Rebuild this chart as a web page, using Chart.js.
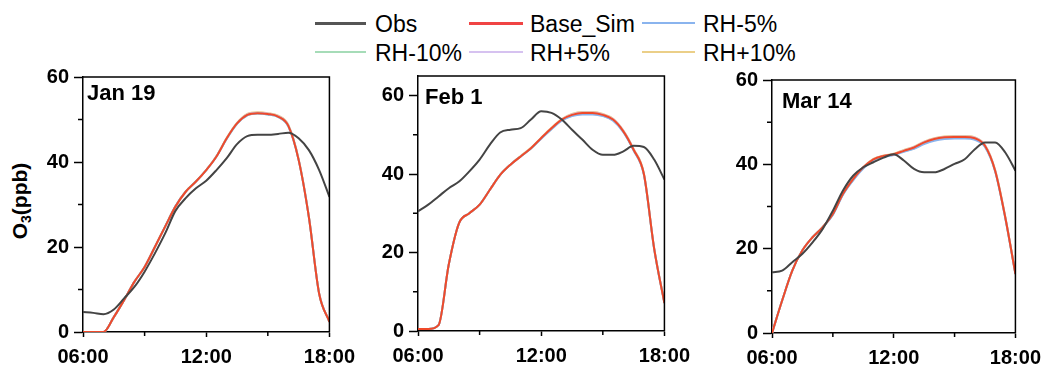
<!DOCTYPE html>
<html>
<head>
<meta charset="utf-8">
<script src="https://cdn.jsdelivr.net/npm/chart.js@4.4.1/dist/chart.umd.min.js"></script>
<style>
  html, body { margin: 0; padding: 0; background: #fff; width: 1050px; height: 367px; overflow: hidden; }
  body { position: relative; font-family: "Liberation Sans", Arial, sans-serif; color: #000; }
  canvas { position: absolute; }
  .lg-line { position: absolute; height: 0; }
  .lg-text { position: absolute; font-size: 23px; line-height: 26px; white-space: nowrap; }
  .ptitle { position: absolute; font-weight: bold; font-size: 22px; line-height: 26px; white-space: nowrap; }
  .ytitle { position: absolute; width: 120px; height: 26px; line-height: 26px; text-align: center;
            font-weight: bold; font-size: 21px; transform: rotate(-90deg); white-space: nowrap; }
  .ytitle sub { font-size: 14px; vertical-align: -4px; line-height: 0; }
</style>
</head>
<body>

<!-- legend -->
<div class="lg-line" style="left:315px;top:22px;width:51px;border-top:3px solid #555555"></div>
<div class="lg-text" style="left:375px;top:11px">Obs</div>
<div class="lg-line" style="left:469px;top:22px;width:54px;border-top:3px solid #f04444"></div>
<div class="lg-text" style="left:530px;top:11px">Base_Sim</div>
<div class="lg-line" style="left:642px;top:22px;width:53px;border-top:2px solid #8ab4ee"></div>
<div class="lg-text" style="left:703px;top:11px">RH-5%</div>

<div class="lg-line" style="left:315px;top:51px;width:51px;border-top:2px solid #a6dcb8"></div>
<div class="lg-text" style="left:375px;top:40px">RH-10%</div>
<div class="lg-line" style="left:469px;top:51px;width:54px;border-top:2px solid #d6c2f0"></div>
<div class="lg-text" style="left:530px;top:40px">RH+5%</div>
<div class="lg-line" style="left:642px;top:51px;width:53px;border-top:2px solid #ebcf88"></div>
<div class="lg-text" style="left:703px;top:40px">RH+10%</div>

<div class="ytitle" style="left:-40px;top:188px">O<sub>3</sub>(ppb)</div>

<canvas id="c1"></canvas>
<canvas id="c2"></canvas>
<canvas id="c3"></canvas>

<div class="ptitle" style="left:87px;top:80px">Jan 19</div>
<div class="ptitle" style="left:425px;top:84px">Feb 1</div>
<div class="ptitle" style="left:782px;top:88px">Mar 14</div>

<script>
// hours of day, every half hour
const hours = [6, 6.5, 7, 7.5, 8, 8.5, 9, 9.5, 10, 10.5, 11, 11.5, 12,
               12.5, 13, 13.5, 14, 14.5, 15, 15.5, 16, 16.5, 17, 17.5, 18];

const xTicks = [6, 12, 18];
const xTickLabels = ["06:00", "12:00", "18:00"];
const xMinorTicks = [9, 15];
const yTicks = [0, 20, 40, 60];
const yMinorTicks = [10, 30, 50];

// Jan 19
const obsJan = [4.7, 4.5, 4.2, 5.3, 7.9, 10.6, 14.2, 18.5, 23.2, 28.5, 31.5, 33.8, 35.6,
                38.1, 40.9, 44.2, 46.1, 46.4, 46.4, 46.6, 46.9, 45.6, 42.8, 38.1, 31.8];
const baseJan = [0, 0, 0, 3.5, 7.5, 11.8, 15.3, 20, 24.8, 29.5, 33, 35.4, 38.1,
                 41.3, 45.6, 49.1, 51.1, 51.5, 51.3, 50.7, 48.5, 40.5, 27, 9, 2.4];
const rhm5Jan = [0, 0, 0, 3.5, 7.5, 11.8, 15.3, 20, 24.8, 29.6, 33, 35.4, 38.1,
                 41.3, 45.5, 49, 51, 51.4, 51.2, 50.6, 48.4, 40.5, 27, 9, 2.4];
const rhm10Jan = [0, 0, 0, 3.5, 7.5, 11.8, 15.3, 20, 24.9, 29.6, 33.1, 35.5, 38.1,
                  41.3, 45.5, 49, 51, 51.4, 51.2, 50.6, 48.4, 40.5, 27, 9, 2.4];
const rhp5Jan = [0, 0, 0, 3.5, 7.5, 11.8, 15.3, 20, 24.8, 29.5, 33, 35.4, 38.1,
                 41.3, 45.6, 49.1, 51.2, 51.6, 51.4, 50.8, 48.6, 40.6, 27.1, 9.1, 2.4];
const rhp10Jan = [0, 0, 0, 3.5, 7.5, 11.8, 15.3, 20, 24.8, 29.5, 33, 35.4, 38.1,
                  41.4, 45.7, 49.2, 51.3, 51.7, 51.5, 50.9, 48.7, 40.7, 27.2, 9.1, 2.4];

// Feb 1
const obsFeb = [30.5, 32.2, 34.3, 36.4, 38.1, 40.7, 43.7, 47.5, 50.6, 51.3, 51.7, 53.9, 56,
                55.6, 53.9, 51.3, 48.8, 46.2, 44.9, 44.9, 45.8, 47.2, 46.9, 43.7, 38.6];
const baseFeb = [0.5, 0.5, 1.5, 17, 27.5, 30, 32.2, 36, 39.8, 42.4, 44.5, 46.6, 49.2,
                 51.7, 53.9, 55.1, 55.6, 55.6, 55.1, 53.9, 50.9, 46.2, 40, 21, 7.1];
const rhm5Feb = [0.5, 0.5, 1.5, 17, 27.5, 30, 32.2, 36, 39.8, 42.4, 44.5, 46.5, 49,
                 51.4, 53.6, 54.8, 55.2, 55.2, 54.8, 53.6, 50.7, 46, 39.8, 20.9, 7.1];
const rhm10Feb = [0.5, 0.5, 1.5, 17, 27.5, 30, 32.2, 36, 39.8, 42.4, 44.5, 46.5, 49.1,
                  51.5, 53.7, 54.9, 55.4, 55.4, 54.9, 53.7, 50.8, 46.1, 39.9, 20.9, 7.1];
const rhp5Feb = [0.5, 0.5, 1.5, 17, 27.5, 30, 32.2, 36, 39.8, 42.4, 44.5, 46.6, 49.2,
                 51.7, 53.9, 55.2, 55.7, 55.7, 55.2, 54, 51, 46.3, 40.1, 21.1, 7.2];
const rhp10Feb = [0.5, 0.5, 1.5, 17, 27.5, 30, 32.2, 36, 39.8, 42.4, 44.6, 46.7, 49.3,
                  51.8, 54, 55.3, 55.8, 55.8, 55.3, 54.1, 51.1, 46.4, 40.2, 21.2, 7.2];

// Mar 14
const obsMar = [14.4, 14.8, 16.8, 18.8, 21.5, 24.7, 29, 33.8, 37.3, 39.3, 40.5, 41.6, 42.4,
                40.9, 38.9, 38.1, 38.1, 38.9, 40.1, 41.2, 43.6, 45.2, 45.2, 42.8, 38.5];
const baseMar = [0, 7.7, 14.8, 19.6, 22.7, 25.1, 28.2, 33, 36.5, 39.3, 41.2, 42, 42.4,
                 43.2, 44, 45.2, 46, 46.4, 46.5, 46.5, 46.2, 44.4, 38.5, 27.4, 14];
const rhm5Mar = [0, 7.7, 14.8, 19.6, 22.7, 25.1, 28, 32.8, 36.2, 39, 41, 41.8, 42.2,
                 43, 43.7, 44.8, 45.6, 46, 46.1, 46.1, 45.8, 44.1, 38.3, 27.2, 14];
const rhm10Mar = [0, 7.7, 14.8, 19.6, 22.7, 25.1, 28.1, 32.9, 36.3, 39.1, 41.1, 41.9, 42.3,
                  43.1, 43.8, 45, 45.8, 46.2, 46.3, 46.3, 46, 44.2, 38.4, 27.3, 14];
const rhp5Mar = [0, 7.7, 14.8, 19.6, 22.7, 25.1, 28.2, 33, 36.5, 39.3, 41.2, 42, 42.4,
                 43.3, 44.1, 45.3, 46.1, 46.5, 46.6, 46.6, 46.3, 44.5, 38.6, 27.5, 14.1];
const rhp10Mar = [0, 7.7, 14.8, 19.6, 22.7, 25.1, 28.2, 33, 36.5, 39.3, 41.3, 42.1, 42.5,
                  43.4, 44.2, 45.4, 46.2, 46.6, 46.7, 46.7, 46.4, 44.6, 38.7, 27.6, 14.1];

const FONT = "'Liberation Sans', Arial, sans-serif";

// draws the box's top/right edges and the minor ticks
const framePlugin = {
  id: "frame",
  afterDraw(chart) {
    const { ctx, chartArea: a, scales } = chart;
    ctx.save();
    ctx.strokeStyle = "#000";
    ctx.lineWidth = 1.5;
    ctx.beginPath();
    ctx.moveTo(a.left, a.top);
    ctx.lineTo(a.right, a.top);
    ctx.lineTo(a.right, a.bottom);
    ctx.stroke();
    ctx.beginPath();
    yMinorTicks.forEach((v) => {
      const py = scales.y.getPixelForValue(v);
      ctx.moveTo(a.left - 5, py);
      ctx.lineTo(a.left, py);
    });
    xMinorTicks.forEach((v) => {
      const px = scales.x.getPixelForValue(v);
      ctx.moveTo(px, a.bottom);
      ctx.lineTo(px, a.bottom + 4);
    });
    ctx.stroke();
    ctx.restore();
  },
};

function series(values) {
  return hours.map((h, i) => ({ x: h, y: values[i] }));
}

function makePanel(canvasId, box, yMax, obs, base, rhm5, rhm10, rhp5, rhp10) {
  const padTop = 20, padRight = box.padRight, yAxisW = 83, xAxisH = 36;
  const canvas = document.getElementById(canvasId);
  canvas.width = box.right - box.left + yAxisW + padRight;
  canvas.height = box.bottom - box.top + padTop + xAxisH;
  canvas.style.left = (box.left - yAxisW) + "px";
  canvas.style.top = (box.top - padTop) + "px";

  const line = (label, data, color, width) => ({
    label,
    data: series(data),
    borderColor: color,
    backgroundColor: color,
    borderWidth: width,
    pointRadius: 0,
    fill: false,
    cubicInterpolationMode: "monotone",
  });

  new Chart(canvas.getContext("2d"), {
    type: "line",
    data: {
      datasets: [
        line("Obs", obs, "#444444", 2),
        line("Base_Sim", base, "#f04a2a", 2),
        line("RH-5%", rhm5, "#8ab4ee", 2),
        line("RH-10%", rhm10, "#a6dcb8", 2),
        line("RH+5%", rhp5, "#d6c2f0", 2),
        line("RH+10%", rhp10, "#ebc070", 2),
      ],
    },
    options: {
      responsive: false,
      animation: false,
      devicePixelRatio: 1,
      layout: { padding: { top: padTop, right: padRight, left: 0, bottom: 0 } },
      plugins: { legend: { display: false }, tooltip: { enabled: false } },
      scales: {
        x: {
          type: "linear",
          min: 6,
          max: 18,
          afterBuildTicks: (s) => { s.ticks = xTicks.map((v) => ({ value: v })); },
          afterFit: (s) => { s.height = xAxisH; },
          ticks: {
            callback: (v) => xTickLabels[xTicks.indexOf(v)],
            font: { family: FONT, size: 20, weight: "bold" },
            color: "#000",
            padding: 8,
            maxRotation: 0,
            autoSkip: false,
          },
          grid: { drawOnChartArea: false, drawTicks: true, tickLength: 5, tickColor: "#000", tickWidth: 1.5 },
          border: { color: "#000", width: 1.5 },
        },
        y: {
          min: 0,
          max: yMax,
          afterBuildTicks: (s) => { s.ticks = yTicks.map((v) => ({ value: v })); },
          afterFit: (s) => { s.width = yAxisW; },
          ticks: {
            font: { family: FONT, size: 20, weight: "bold" },
            color: "#000",
            padding: 5,
          },
          grid: { drawOnChartArea: false, drawTicks: true, tickLength: 9, tickColor: "#000", tickWidth: 1.5 },
          border: { color: "#000", width: 1.5 },
        },
      },
    },
    plugins: [framePlugin],
  });
}

makePanel("c1", { left: 83, right: 333, top: 77, bottom: 332, padRight: 30 }, 60,
  obsJan, baseJan, rhm5Jan, rhm10Jan, rhp5Jan, rhp10Jan);
makePanel("c2", { left: 418, right: 668, top: 76, bottom: 331, padRight: 30 }, 65,
  obsFeb, baseFeb, rhm5Feb, rhm10Feb, rhp5Feb, rhp10Feb);
makePanel("c3", { left: 772, right: 1021, top: 80, bottom: 333, padRight: 28 }, 60,
  obsMar, baseMar, rhm5Mar, rhm10Mar, rhp5Mar, rhp10Mar);
</script>
</body>
</html>
